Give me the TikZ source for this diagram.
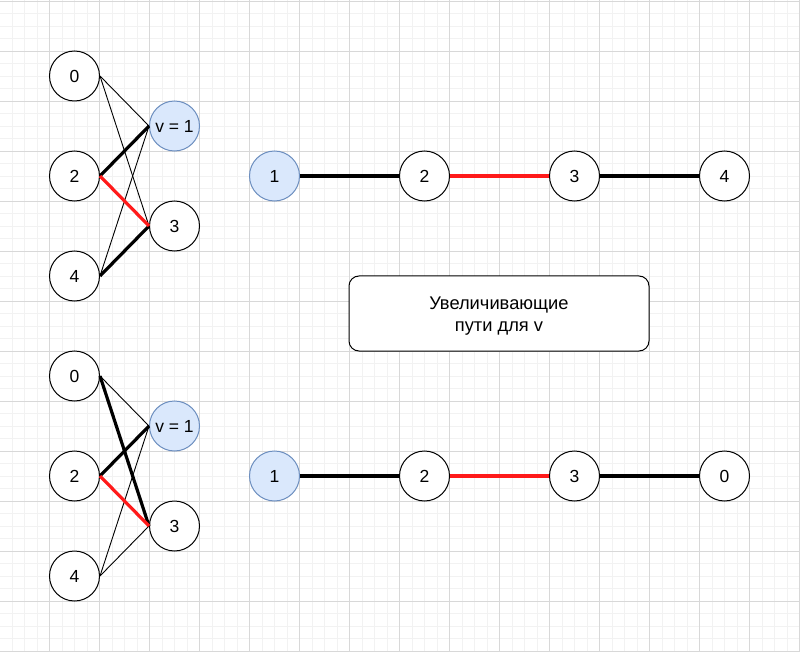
\documentclass[tikz,border=0pt]{standalone}
\usepackage{fontspec}
\setmainfont{Liberation Sans}
\definecolor{gmajor}{HTML}{D8D8D8}
\definecolor{gminor}{HTML}{F2F2F2}
\definecolor{bfill}{HTML}{DAE8FC}
\definecolor{bdraw}{HTML}{6C8EBF}
\definecolor{redline}{HTML}{FF1A1A}
\tikzset{
  vnode/.style={circle,draw=black,line width=1pt,fill=white,minimum size=50pt,inner sep=0pt,font=\fontsize{17.5}{20}\selectfont},
  vblue/.style={vnode,fill=bfill,draw=bdraw},
  thinedge/.style={line width=0.9pt,black},
  thickedge/.style={line width=3.2pt,black},
  redge/.style={line width=3.2pt,redline},
  boxtext/.style={align=center,inner sep=0pt,font=\fontsize{18.3}{22}\selectfont},
}
\begin{document}
\begin{tikzpicture}[x=1pt,y=-1pt]
\useasboundingbox (0,0) rectangle (800,652);
\fill[white] (0,0) rectangle (800,652);
% minor grid
\foreach \i in {0,...,64} {
  \draw[gminor,line width=0.8pt] ({-0.5+12.5*\i},0) -- ({-0.5+12.5*\i},652);
}
\foreach \i in {0,...,52} {
  \draw[gminor,line width=0.8pt] (0,{1+12.5*\i}) -- (800,{1+12.5*\i});
}
% major grid
\foreach \i in {0,...,16} {
  \draw[gmajor,line width=0.8pt] ({-0.5+50*\i},0) -- ({-0.5+50*\i},652);
}
\foreach \i in {0,...,13} {
  \draw[gmajor,line width=0.8pt] (0,{1+50*\i}) -- (800,{1+50*\i});
}

% top bipartite graph
\node[vnode] (a0) at (74.5,76) {0};
\node[vnode] (a2) at (74.5,176) {2};
\node[vnode] (a4) at (74.5,276) {4};
\node[vblue] (a1) at (174.5,126) {v = 1};
\node[vnode] (a3) at (174.5,226) {3};
\draw[thinedge] (a0.east) -- (a1.west);
\draw[thinedge] (a0.east) -- (a3.west);
\draw[thinedge] (a4.east) -- (a1.west);
\draw[thickedge] (a2.east) -- (a1.west);
\draw[thickedge] (a4.east) -- (a3.west);
\draw[redge] (a2.east) -- (a3.west);

% bottom bipartite graph
\node[vnode] (b0) at (74.5,376) {0};
\node[vnode] (b2) at (74.5,476) {2};
\node[vnode] (b4) at (74.5,576) {4};
\node[vblue] (b1) at (174.5,426) {v = 1};
\node[vnode] (b3) at (174.5,526) {3};
\draw[thinedge] (b0.east) -- (b1.west);
\draw[thinedge] (b4.east) -- (b1.west);
\draw[thinedge] (b4.east) -- (b3.west);
\draw[thickedge] (b0.east) -- (b3.west);
\draw[thickedge] (b2.east) -- (b1.west);
\draw[redge] (b2.east) -- (b3.west);

% top path
\node[vblue] (p1) at (274.5,176) {1};
\node[vnode] (p2) at (424.5,176) {2};
\node[vnode] (p3) at (574.5,176) {3};
\node[vnode] (p4) at (724.5,176) {4};
\draw[thickedge] (p1) -- (p2);
\draw[redge] (p2) -- (p3);
\draw[thickedge] (p3) -- (p4);

% bottom path
\node[vblue] (q1) at (274.5,476) {1};
\node[vnode] (q2) at (424.5,476) {2};
\node[vnode] (q3) at (574.5,476) {3};
\node[vnode] (q0) at (724.5,476) {0};
\draw[thickedge] (q1) -- (q2);
\draw[redge] (q2) -- (q3);
\draw[thickedge] (q3) -- (q0);

% label box
\node[draw=black,line width=1pt,fill=white,rounded corners=10pt,minimum width=300pt,minimum height=75pt,inner sep=0pt,
  label={[boxtext,yshift=-3pt]center:Увеличивающие\\пути для v}] (lbl) at (499,313.5) {};
\end{tikzpicture}
\end{document}
